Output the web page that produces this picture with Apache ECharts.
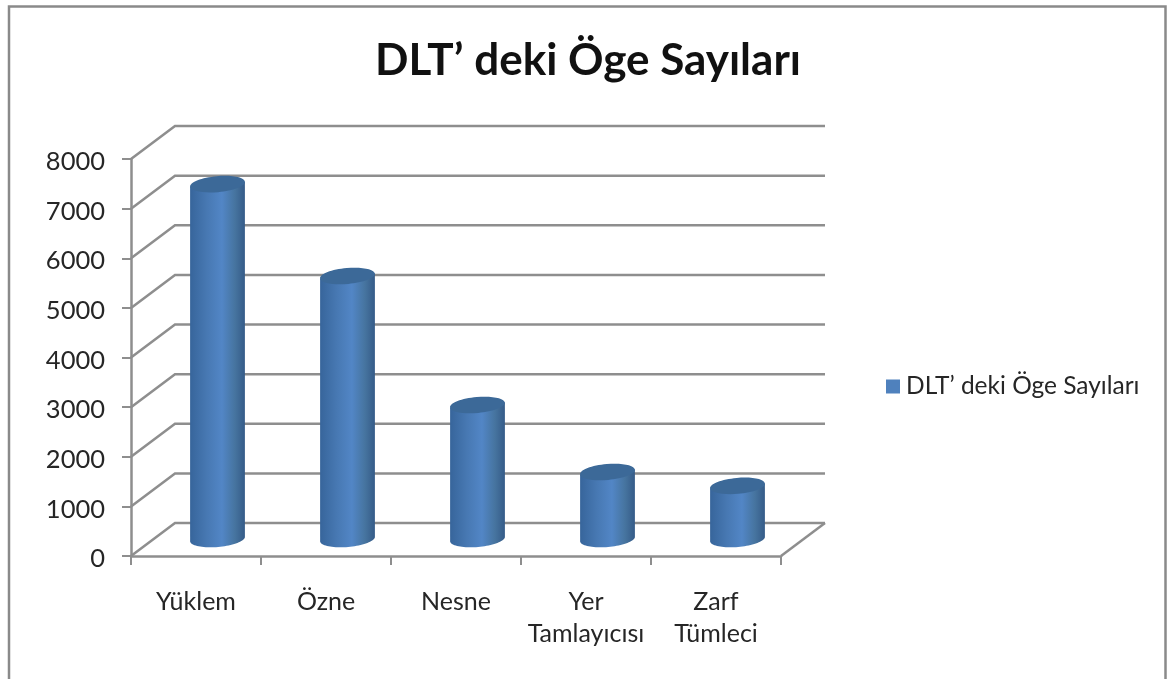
<!DOCTYPE html>
<html>
<head>
<meta charset="utf-8">
<style>html,body{margin:0;padding:0;background:#fff}#c{width:1168px;height:679px}</style>
<script src="https://cdn.jsdelivr.net/npm/echarts@6/dist/echarts.min.js"></script>
</head>
<body>
<div id="c"></div>
<script>
const categories = ['Yüklem', 'Özne', 'Nesne', 'Yer\nTamlayıcısı', 'Zarf\nTümleci'];
const counts = [7150, 5300, 2700, 1350, 1070];
const yTicks = [0, 1000, 2000, 3000, 4000, 5000, 6000, 7000, 8000];
const titleText = 'DLT’ deki Öge Sayıları';
const seriesName = 'DLT’ deki Öge Sayıları';

const FONT = 'Lato,"Open Sans","Noto Sans",sans-serif';
const LINE = '#8e8e8e';
const DX = 44, DY = -33;      // depth of the pseudo-3D walls
const RX = 27.5, RY = 8, TILT = -5 * Math.PI / 180;

function ellipsePoint(cx, cy, t) {
  const x = RX * Math.cos(t), y = RY * Math.sin(t);
  return [cx + x * Math.cos(TILT) - y * Math.sin(TILT),
          cy + x * Math.sin(TILT) + y * Math.cos(TILT)];
}

function renderWall(params, api) {
  const v = api.value(1);
  const cs = params.coordSys;
  const y = api.coord([0, v])[1];
  const x0 = cs.x, x1 = cs.x + cs.width;
  const style = { stroke: LINE, lineWidth: 2.5, fill: 'none' };
  const children = [{
    type: 'polyline',
    shape: { points: [[x0, y], [x0 + DX, y + DY], [x1 + DX, y + DY]] },
    style
  }];
  if (v === 0) {
    children.push({
      type: 'line',
      shape: { x1: x1, y1: y, x2: x1 + DX, y2: y + DY },
      style
    });
  }
  return { type: 'group', children };
}

function renderCylinder(params, api) {
  const i = api.value(0), v = api.value(1);
  const top = api.coord([i, v]), base = api.coord([i, 0]);
  const cx = top[0] + DX / 2 - 0.5;
  const topY = top[1] + DY / 2 - 0.5, baseY = base[1] + DY / 2 - 0.5;
  const pts = [];
  const n = 40;
  const tLeft = Math.PI, tRight = 0;
  pts.push(ellipsePoint(cx, topY, tLeft));
  for (let k = 0; k <= n; k++) {
    const t = tLeft + (tRight - tLeft) * k / n;
    pts.push(ellipsePoint(cx, baseY, t));
  }
  pts.push(ellipsePoint(cx, topY, tRight));
  return {
    type: 'group',
    children: [{
      type: 'polygon',
      shape: { points: pts },
      style: {
        fill: {
          type: 'linear', x: 0, y: 0, x2: 1, y2: 0,
          colorStops: [
            { offset: 0, color: '#37659b' },
            { offset: 0.3, color: '#4778b2' },
            { offset: 0.58, color: '#5286c6' },
            { offset: 0.82, color: '#46749f' },
            { offset: 1, color: '#355b88' }
          ]
        }
      }
    }, {
      type: 'ellipse',
      x: cx, y: topY, rotation: -TILT, originX: 0, originY: 0,
      shape: { cx: 0, cy: 0, rx: RX, ry: RY },
      style: { fill: '#3c6998' }
    }]
  };
}

const chart = echarts.init(document.getElementById('c'), null, { renderer: 'canvas' });
chart.setOption({
  animation: false,
  backgroundColor: '#ffffff',
  textStyle: { fontFamily: FONT },
  title: {
    text: titleText, left: 583, top: 34, textAlign: 'center',
    textStyle: { fontFamily: FONT, fontSize: 44, fontWeight: 'bold', color: '#111111' }
  },
  legend: {
    data: [seriesName], left: 881, top: 369,
    icon: 'rect', itemWidth: 14, itemHeight: 14, itemGap: 8,
    textStyle: { fontFamily: FONT, fontSize: 24.5, color: '#262626', padding: [6, 0, 0, 1] }
  },
  grid: { left: 131, right: 387, top: 159, bottom: 123 },
  xAxis: {
    type: 'category', data: categories,
    axisLine: { lineStyle: { color: LINE, width: 2.5 } },
    axisTick: { show: true, length: 9, lineStyle: { color: LINE, width: 2 } },
    axisLabel: { margin: 30, fontSize: 25, lineHeight: 32, color: '#262626', interval: 0 },
    splitLine: { show: false }
  },
  yAxis: {
    type: 'value', min: 0, max: 8000, interval: 1000,
    axisLine: { show: true, lineStyle: { color: LINE, width: 2.5 } },
    axisTick: { show: true, length: 9, lineStyle: { color: LINE, width: 2 } },
    axisLabel: {
      margin: 26, color: '#262626',
      formatter: v => '{n|' + v + '}',
      rich: { n: { fontFamily: FONT, fontSize: 25.5, color: '#262626', padding: [6, 0, 0, 0] } }
    },
    splitLine: { show: false }
  },
  graphic: [{
    type: 'polyline', silent: true, z: 0,
    shape: { points: [[9, 680], [9, 6.5], [1165.5, 6.5], [1165.5, 680]] },
    style: { stroke: '#8a8a8a', lineWidth: 2.5, fill: 'none' }
  }],
  series: [{
    type: 'custom', name: 'Izgara', renderItem: renderWall, silent: true, z: 1,
    clip: false,
    encode: { x: 0, y: 1 },
    data: yTicks.map(t => [0, t])
  }, {
    type: 'custom', name: seriesName, renderItem: renderCylinder, z: 2,
    clip: false,
    itemStyle: { color: '#4f81bd' },
    encode: { x: 0, y: 1 },
    data: counts.map((c, i) => [i, c])
  }]
});
</script>
</body>
</html>
